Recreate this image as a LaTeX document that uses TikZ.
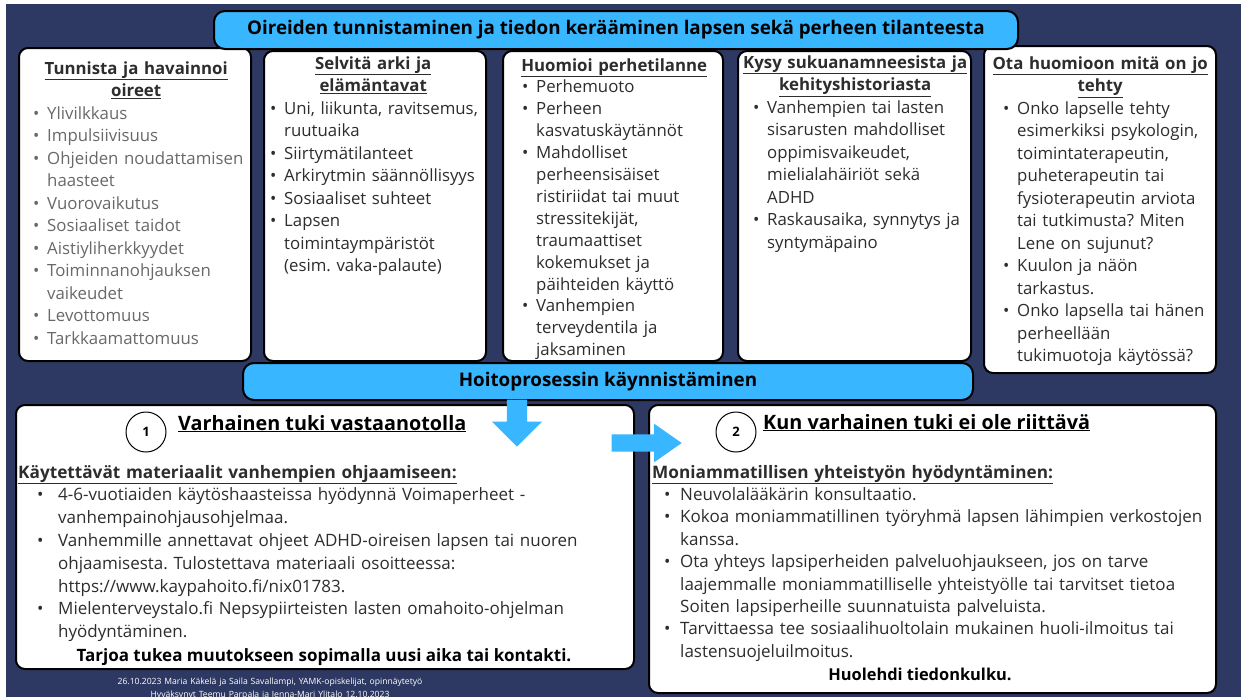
\documentclass[tikz,border=0pt]{standalone}
\usepackage{fontspec}
\setmainfont{Open Sans}
\usetikzlibrary{shapes.arrows}

\definecolor{navy}{RGB}{46,57,99}
\definecolor{skyblue}{RGB}{56,182,255}
\definecolor{ink}{RGB}{45,45,45}
\definecolor{softink}{RGB}{105,105,105}

\frenchspacing
\setlength{\parindent}{0pt}
\newlength{\bulpre}
\newlength{\bulw}
\setlength{\bulw}{14pt}
% bullet item with hanging indent
\newcommand{\bul}[1]{\par\hangindent=\dimexpr\bulpre+\bulw\relax\hangafter=1
  \hspace*{\bulpre}\makebox[\bulw][l]{\textbullet}{\let\\\newline#1}\par}
% centred, underlined heading line
\newcommand{\hdr}[2]{\makebox[#1][c]{\color{ink}\fontsize{16.8}{20}\selectfont\bfseries\underline{#2}}\par}

\begin{document}
\begin{tikzpicture}[x=1pt, y=-1pt,
  card/.style={draw=black, line width=2pt, fill=white, rounded corners=9pt, anchor=north west, inner sep=0pt},
  banner/.style={draw=black, line width=2pt, fill=skyblue, rounded corners=11pt, anchor=north west, inner sep=0pt, font=\fontsize{18.8}{22}\selectfont\bfseries},
  cardtext/.style={inner sep=0pt, anchor=base west, align=left, text width=#1, text=ink, font=\fontsize{16.8}{22.5}\selectfont},
  numring/.style={circle, draw=black, line width=1pt, fill=white, minimum size=40pt, inner sep=0pt, font=\fontsize{13}{15}\selectfont\bfseries},
  phasehead/.style={inner sep=0pt, anchor=base west, font=\fontsize{19.8}{24}\selectfont\bfseries},
  closing/.style={inner sep=0pt, anchor=base, font=\fontsize{17}{20}\selectfont\bfseries},
  flowarrow/.style={single arrow, fill=skyblue, draw=none, anchor=tip, inner sep=10pt, single arrow head extend=15pt, minimum height=47pt},
]
\useasboundingbox (0,0) rectangle (1241,697);
\fill[white] (0,0) rectangle (1241,697);
\fill[navy] (6,4) rectangle (1241,697);

% top row of cards
\node[card, minimum width=232, minimum height=313] (symptoms) at (18,47) {};
\node[card, minimum width=222, minimum height=310] (routines) at (263,50) {};
\node[card, minimum width=220, minimum height=310] (family) at (502,50) {};
\node[card, minimum width=233, minimum height=310] (history) at (737,50) {};
\node[card, minimum width=232, minimum height=327] (done) at (983,45) {};

\node[banner, minimum width=804, minimum height=38] (titlebar) at (213,10)
  {Oireiden tunnistaminen ja tiedon kerääminen lapsen sekä perheen tilanteesta};

\node[cardtext=230, text=softink] (symptomslist) at (33,74) {%
  \hdr{206pt}{Tunnista ja havainnoi}\hdr{206pt}{oireet}
  \bul{Ylivilkkaus}
  \bul{Impulsiivisuus}
  \bul{Ohjeiden noudattamisen\\haasteet}
  \bul{Vuorovaikutus}
  \bul{Sosiaaliset taidot}
  \bul{Aistiyliherkkyydet}
  \bul{Toiminnanohjauksen\\vaikeudet}
  \bul{Levottomuus}
  \bul{Tarkkaamattomuus}};

\node[cardtext=230] (routineslist) at (270,69) {%
  \hdr{206pt}{Selvitä arki ja}\hdr{206pt}{elämäntavat}
  \bul{Uni, liikunta, ravitsemus,\\ruutuaika}
  \bul{Siirtymätilanteet}
  \bul{Arkirytmin säännöllisyys}
  \bul{Sosiaaliset suhteet}
  \bul{Lapsen\\toimintaympäristöt\\(esim. vaka-palaute)}};

\node[cardtext=210, font=\fontsize{16.8}{21.9}\selectfont] (familylist) at (522,71) {%
  \hdr{184pt}{Huomioi perhetilanne}
  \bul{Perhemuoto}
  \bul{Perheen\\kasvatuskäytännöt}
  \bul{Mahdolliset\\perheensisäiset\\ristiriidat tai muut\\stressitekijät,\\traumaattiset\\kokemukset ja\\päihteiden käyttö}
  \bul{Vanhempien\\terveydentila ja\\jaksaminen}};

\node[cardtext=240] (historylist) at (753,68) {%
  \hdr{204pt}{Kysy sukuanamneesista ja}\hdr{204pt}{kehityshistoriasta}
  \bul{Vanhempien tai lasten\\sisarusten mahdolliset\\oppimisvaikeudet,\\mielialahäiriöt sekä\\ADHD}
  \bul{Raskausaika, synnytys ja\\syntymäpaino}};

\node[cardtext=230] (donelist) at (1003,69) {%
  \hdr{194pt}{Ota huomioon mitä on jo}\hdr{194pt}{tehty}
  \bul{Onko lapselle tehty\\esimerkiksi psykologin,\\toimintaterapeutin,\\puheterapeutin tai\\fysioterapeutin arviota\\tai tutkimusta? Miten\\Lene on sujunut?}
  \bul{Kuulon ja näön\\tarkastus.}
  \bul{Onko lapsella tai hänen\\perheellään\\tukimuotoja käytössä?}};

% process start
\node[banner, minimum width=730, minimum height=37] (startbar) at (242,362) {Hoitoprosessin käynnistäminen};

% lower cards
\node[card, minimum width=618, minimum height=264] (early) at (15,404) {};
\node[card, minimum width=567, minimum height=288] (further) at (648,404) {};

\node[numring] (num1) at (146,432) {1};
\node[phasehead] (earlyhead) at (178,430) {\underline{Varhainen tuki vastaanotolla}};
\node[numring] (num2) at (736,432) {2};
\node[phasehead] (furtherhead) at (763,429) {\underline{Kun varhainen tuki ei ole riittävä}};

\node[cardtext=610, font=\fontsize{17}{22.8}\selectfont] (earlylist) at (18,478) {%
  \setlength{\bulpre}{19pt}\setlength{\bulw}{21pt}%
  {\fontsize{17.2}{22.8}\selectfont\bfseries\underline{Käytettävät materiaalit vanhempien ohjaamiseen:}}
  \bul{4-6-vuotiaiden käytöshaasteissa hyödynnä Voimaperheet -\\vanhempainohjausohjelmaa.}
  \bul{Vanhemmille annettavat ohjeet ADHD-oireisen lapsen tai nuoren\\ohjaamisesta. Tulostettava materiaali osoitteessa:\\https://www.kaypahoito.fi/nix01783.}
  \bul{Mielenterveystalo.fi Nepsypiirteisten lasten omahoito-ohjelman\\hyödyntäminen.}};
\node[closing] (earlyclose) at (324,661) {Tarjoa tukea muutokseen sopimalla uusi aika tai kontakti.};

\node[cardtext=560, font=\fontsize{17}{22.4}\selectfont] (furtherlist) at (652,478) {%
  \setlength{\bulpre}{12pt}\setlength{\bulw}{16pt}%
  {\fontsize{17.2}{22.4}\selectfont\bfseries\underline{Moniammatillisen yhteistyön hyödyntäminen:}}
  \bul{Neuvolalääkärin konsultaatio.}
  \bul{Kokoa moniammatillinen työryhmä lapsen lähimpien verkostojen\\kanssa.}
  \bul{Ota yhteys lapsiperheiden palveluohjaukseen, jos on tarve\\laajemmalle moniammatilliselle yhteistyölle tai tarvitset tietoa\\Soiten lapsiperheille suunnatuista palveluista.}
  \bul{Tarvittaessa tee sosiaalihuoltolain mukainen huoli-ilmoitus tai\\lastensuojeluilmoitus.}};
\node[closing, font=\fontsize{16.4}{20}\selectfont\bfseries] (furtherclose) at (920,680) {Huolehdi tiedonkulku.};

% arrows
\node[flowarrow, rotate=-90] (downarrow) at (517,447) {};
\node[flowarrow, inner sep=8.5pt, single arrow head extend=10.5pt, single arrow tip angle=70, minimum height=70pt] (rightarrow) at (682,443) {};

% credits
\node[inner sep=0pt, anchor=base, text=white, align=center, text width=420, font=\fontsize{8.6}{13.5}\selectfont] (credits) at (270,684)
  {26.10.2023 Maria Käkelä ja Saila Savallampi, YAMK-opiskelijat, opinnäytetyö\\Hyväksynyt Teemu Parpala ja Jenna-Mari Ylitalo 12.10.2023};
\end{tikzpicture}
\end{document}
